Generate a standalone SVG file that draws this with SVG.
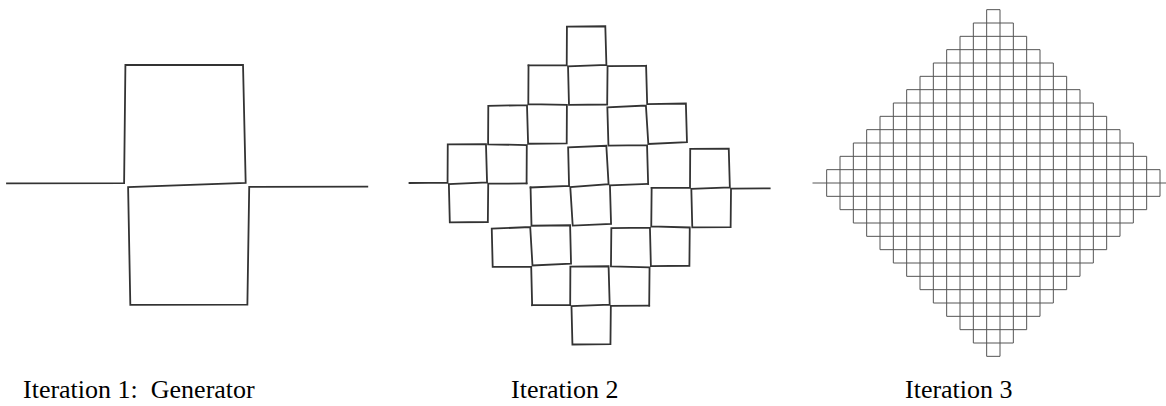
<svg xmlns="http://www.w3.org/2000/svg" xmlns:xlink="http://www.w3.org/1999/xlink" width="1166" height="406" viewBox="0 0 1166 406">
<style>
.curve{fill:none;stroke:#333;stroke-width:1.8;stroke-linejoin:miter;stroke-linecap:square;vector-effect:non-scaling-stroke}
.grid{fill:none;stroke:#555;stroke-width:1}
.label{font-family:"Liberation Serif","Times New Roman",serif;font-size:26px;fill:#000;white-space:pre}
</style>
<defs>
<path id="gen" class="curve" d="M0,0 L0.3250,0.0036 L0.3255,0.3314 L0.6519,0.3350 L0.6624,0.0074 L0.3362,-0.0074 L0.3454,-0.3342 L0.6703,-0.3306 L0.6723,-0.0036 L1,0"/>
</defs>
<rect width="1166" height="406" fill="#fff"/>
<g id="iteration1">
<use xlink:href="#gen" href="#gen" transform="matrix(360.3 3.4 3.4 -360.3 7 183.3)"/>
</g>
<g id="iteration2">
<use href="#gen" transform="matrix(117.09 0.42 0.42 -117.09 409.5 183)"/>
<use href="#gen" transform="matrix(1.92 -118.06 -118.06 -1.92 526.59 183.42)"/>
<use href="#gen" transform="matrix(117.58 0.43 0.43 -117.58 528.51 65.36)"/>
<use href="#gen" transform="matrix(2.05 118.05 118.05 -2.05 646.09 65.79)"/>
<use href="#gen" transform="matrix(-117.58 3.61 3.61 117.58 648.14 183.84)"/>
<use href="#gen" transform="matrix(1.58 117.76 117.76 -1.58 530.56 187.45)"/>
<use href="#gen" transform="matrix(117.05 0.42 0.42 -117.05 532.14 305.21)"/>
<use href="#gen" transform="matrix(2.45 -117.77 -117.77 -2.45 649.19 305.63)"/>
<use href="#gen" transform="matrix(118.06 0.44 0.44 -118.06 651.64 187.86)"/>
</g>
<g id="iteration3" class="grid">
<path d="M812.5,183H1166
M986.67,9.67H1000 M973.33,23H1013.33 M960,36.33H1026.67 M946.67,49.67H1040 M933.33,63H1053.33 M920,76.33H1066.67 M906.67,89.67H1080 M893.33,103H1093.33 M880,116.33H1106.67 M866.67,129.67H1120 M853.33,143H1133.33 M840,156.33H1146.67 M826.67,169.67H1160
M826.67,196.33H1160 M840,209.67H1146.67 M853.33,223H1133.33 M866.67,236.33H1120 M880,249.67H1106.67 M893.33,263H1093.33 M906.67,276.33H1080 M920,289.67H1066.67 M933.33,303H1053.33 M946.67,316.33H1040 M960,329.67H1026.67 M973.33,343H1013.33 M986.67,356.33H1000
M986.67,9.67V356.33 M1000,9.67V356.33
M973.33,23V343 M1013.33,23V343
M960,36.33V329.67 M1026.67,36.33V329.67
M946.67,49.67V316.33 M1040,49.67V316.33
M933.33,63V303 M1053.33,63V303
M920,76.33V289.67 M1066.67,76.33V289.67
M906.67,89.67V276.33 M1080,89.67V276.33
M893.33,103V263 M1093.33,103V263
M880,116.33V249.67 M1106.67,116.33V249.67
M866.67,129.67V236.33 M1120,129.67V236.33
M853.33,143V223 M1133.33,143V223
M840,156.33V209.67 M1146.67,156.33V209.67
M826.67,169.67V196.33 M1160,169.67V196.33"/>
</g>
<g id="labels">
<text class="label" x="23" y="398">Iteration 1:  Generator</text>
<text class="label" x="511" y="398">Iteration 2</text>
<text class="label" x="905" y="398">Iteration 3</text>
</g>
</svg>
